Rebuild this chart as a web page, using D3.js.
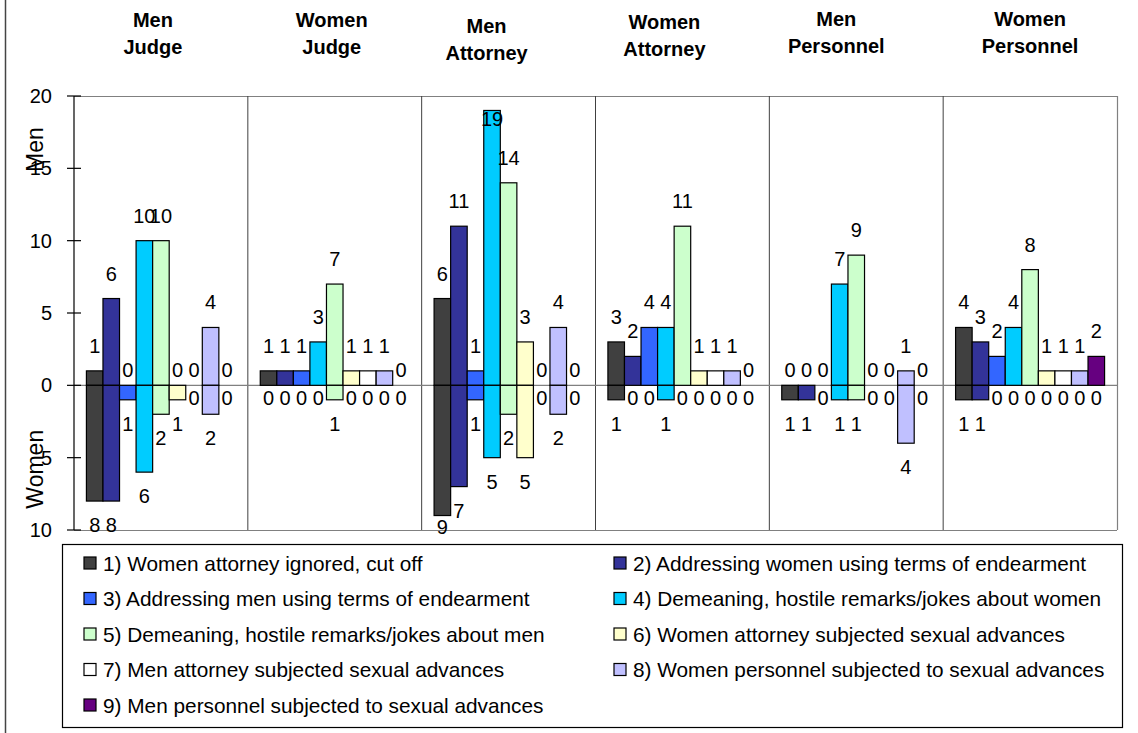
<!DOCTYPE html>
<html>
<head>
<meta charset="utf-8">
<script src="https://cdn.jsdelivr.net/npm/d3@7"></script>
<style>
  html, body { margin: 0; padding: 0; background: #fff; }
  svg { display: block; }
  text { font-family: "Liberation Sans", Arial, sans-serif; fill: #000; }
</style>
</head>
<body>
<svg id="chart" width="1138" height="733"></svg>
<script>
// ---------------- data ----------------
const categories = ["Men Judge", "Women Judge", "Men Attorney", "Women Attorney", "Men Personnel", "Women Personnel"];
const seriesNames = [
  "1) Women attorney ignored, cut off",
  "2) Addressing women using terms of endearment",
  "3) Addressing men using terms of endearment",
  "4) Demeaning, hostile remarks/jokes about women",
  "5) Demeaning, hostile remarks/jokes about men",
  "6) Women attorney subjected sexual advances",
  "7) Men attorney subjected sexual advances",
  "8) Women personnel subjected to sexual advances",
  "9) Men personnel subjected to sexual advances"
];
const seriesColors = ["#404040", "#333399", "#3366FF", "#00CCFF", "#CCFFCC", "#FFFFCC", "#FFFFFF", "#C0C0FF", "#660080"];
// values reported by men (drawn upward), one row per category, one column per series
const menValues = [
  [1, 6, 0, 10, 10, 0, 0, 4, 0],
  [1, 1, 1, 3, 7, 1, 1, 1, 0],
  [6, 11, 1, 19, 14, 3, 0, 4, 0],
  [3, 2, 4, 4, 11, 1, 1, 1, 0],
  [0, 0, 0, 7, 9, 0, 0, 1, 0],
  [4, 3, 2, 4, 8, 1, 1, 1, 2]
];
// values reported by women (drawn downward)
const womenValues = [
  [8, 8, 1, 6, 2, 1, 0, 2, 0],
  [0, 0, 0, 0, 1, 0, 0, 0, 0],
  [9, 7, 1, 5, 2, 5, 0, 2, 0],
  [1, 0, 0, 1, 0, 0, 0, 0, 0],
  [1, 1, 0, 1, 1, 0, 0, 4, 0],
  [1, 1, 0, 0, 0, 0, 0, 0, 0]
];
const yTicks = [20, 15, 10, 5, 0, -5, -10];
const yTitles = ["Men", "Women"];

// ---------------- layout ----------------
const W = 1138, H = 733;
const plot = { left: 74, right: 1117, top: 96, bottom: 530 };
const titleOffsets = [[-8, 0], [-3, 0], [-22, 6], [-18, 2], [-20, -1], [0, -1]];
const FONT = 20;

const svg = d3.select("#chart");
svg.append("rect").attr("width", W).attr("height", H).attr("fill", "#fff");

// outer left border
svg.append("line").attr("x1", 5.5).attr("x2", 5.5).attr("y1", 0).attr("y2", H)
  .attr("stroke", "#444").attr("stroke-width", 1.5);

const x = d3.scaleBand().domain(categories).range([plot.left, plot.right]).paddingInner(0).paddingOuter(0);
const xi = d3.scaleBand().domain(d3.range(seriesNames.length)).range([0, x.bandwidth()]).paddingInner(0).paddingOuter(0.75);
const y = d3.scaleLinear().domain([-10, 20]).range([plot.bottom, plot.top]);

// plot frame (top, right, bottom) in gray
const frame = svg.append("g").attr("stroke", "#808080").attr("stroke-width", 1.2).attr("fill", "none");
frame.append("line").attr("x1", plot.left).attr("x2", plot.right).attr("y1", plot.top + 0.5).attr("y2", plot.top + 0.5);
frame.append("line").attr("x1", plot.right + 0.5).attr("x2", plot.right + 0.5).attr("y1", plot.top).attr("y2", plot.bottom);
frame.append("line").attr("x1", plot.left).attr("x2", plot.right).attr("y1", plot.bottom + 0.5).attr("y2", plot.bottom + 0.5);

// category separators
svg.append("g").selectAll("line").data(categories.slice(1)).join("line")
  .attr("x1", d => x(d)).attr("x2", d => x(d))
  .attr("y1", plot.top).attr("y2", plot.bottom)
  .attr("stroke", "#404040").attr("stroke-width", 1);

// zero line
svg.append("line").attr("x1", plot.left).attr("x2", plot.right)
  .attr("y1", y(0)).attr("y2", y(0)).attr("stroke", "#808080").attr("stroke-width", 1.2);

// bars
const bars = [];
categories.forEach((c, ci) => {
  seriesNames.forEach((s, si) => {
    bars.push({ c, ci, si, v: menValues[ci][si], side: 1 });
    bars.push({ c, ci, si, v: womenValues[ci][si], side: -1 });
  });
});
svg.append("g").selectAll("rect").data(bars.filter(d => d.v > 0)).join("rect")
  .attr("x", d => x(d.c) + xi(d.si))
  .attr("width", xi.bandwidth())
  .attr("y", d => d.side > 0 ? y(d.v) : y(0))
  .attr("height", d => Math.abs(y(d.side * d.v) - y(0)))
  .attr("fill", d => seriesColors[d.si])
  .attr("stroke", "#000").attr("stroke-width", 1.2);

// left axis
const axisG = svg.append("g");
axisG.append("line").attr("x1", plot.left).attr("x2", plot.left).attr("y1", plot.top).attr("y2", plot.bottom)
  .attr("stroke", "#000").attr("stroke-width", 1.2);
axisG.selectAll("line.tick").data(yTicks).join("line").attr("class", "tick")
  .attr("x1", plot.left - 7).attr("x2", plot.left + 7)
  .attr("y1", d => y(d)).attr("y2", d => y(d))
  .attr("stroke", "#000").attr("stroke-width", 1.2);
axisG.selectAll("text").data(yTicks).join("text")
  .attr("x", 52).attr("y", d => y(d))
  .attr("text-anchor", "end").attr("dominant-baseline", "central")
  .attr("font-size", 20).text(d => Math.abs(d));

// axis titles
svg.append("text").attr("transform", `translate(35,${y(16.3)}) rotate(-90)`)
  .attr("text-anchor", "middle").attr("dominant-baseline", "central")
  .attr("font-size", 23).text(yTitles[0]);
svg.append("text").attr("transform", `translate(35,${y(-5.8)}) rotate(-90)`)
  .attr("text-anchor", "middle").attr("dominant-baseline", "central")
  .attr("font-size", 23).text(yTitles[1]);

// data labels
const labelY = d => {
  if (d.side > 0) {
    const yy = d.v > 0 ? y(d.v) - 25 : y(0) - 15;
    return Math.max(yy, plot.top + 23);
  } else {
    const yy = d.v > 0 ? y(-d.v) + 24 : y(0) + 13;
    return Math.min(yy, plot.bottom - 3);
  }
};
svg.append("g").selectAll("text").data(bars).join("text")
  .attr("x", d => x(d.c) + xi(d.si) + xi.bandwidth() / 2)
  .attr("y", labelY)
  .attr("text-anchor", "middle").attr("dominant-baseline", "central")
  .attr("font-size", FONT).text(d => d.v);

// category titles
categories.forEach((c, ci) => {
  const parts = c.split(" ");
  const cx = x(c) + x.bandwidth() / 2 + titleOffsets[ci][0];
  parts.forEach((p, li) => {
    svg.append("text").attr("x", cx).attr("y", 20 + titleOffsets[ci][1] + li * 27)
      .attr("text-anchor", "middle").attr("dominant-baseline", "central")
      .attr("font-size", 20).attr("font-weight", "bold").text(p);
  });
});

// legend
const legend = { left: 62, right: 1122, top: 544, bottom: 727 };
svg.append("rect").attr("x", legend.left + 0.5).attr("y", legend.top + 0.5)
  .attr("width", legend.right - legend.left).attr("height", legend.bottom - legend.top)
  .attr("fill", "#fff").attr("stroke", "#000").attr("stroke-width", 1.2);
const colX = [84, 614];
const rowY0 = 563, rowStep = 35.5;
const lg = svg.append("g").selectAll("g").data(seriesNames).join("g")
  .attr("transform", (d, i) => `translate(${colX[i % 2]},${rowY0 + Math.floor(i / 2) * rowStep})`);
lg.append("rect").attr("x", 0).attr("y", -6).attr("width", 12).attr("height", 12)
  .attr("fill", (d, i) => seriesColors[i]).attr("stroke", "#000").attr("stroke-width", 1.2);
lg.append("text").attr("x", 19).attr("y", 0).attr("dominant-baseline", "central")
  .attr("font-size", 20.8).text(d => d);
</script>
</body>
</html>
